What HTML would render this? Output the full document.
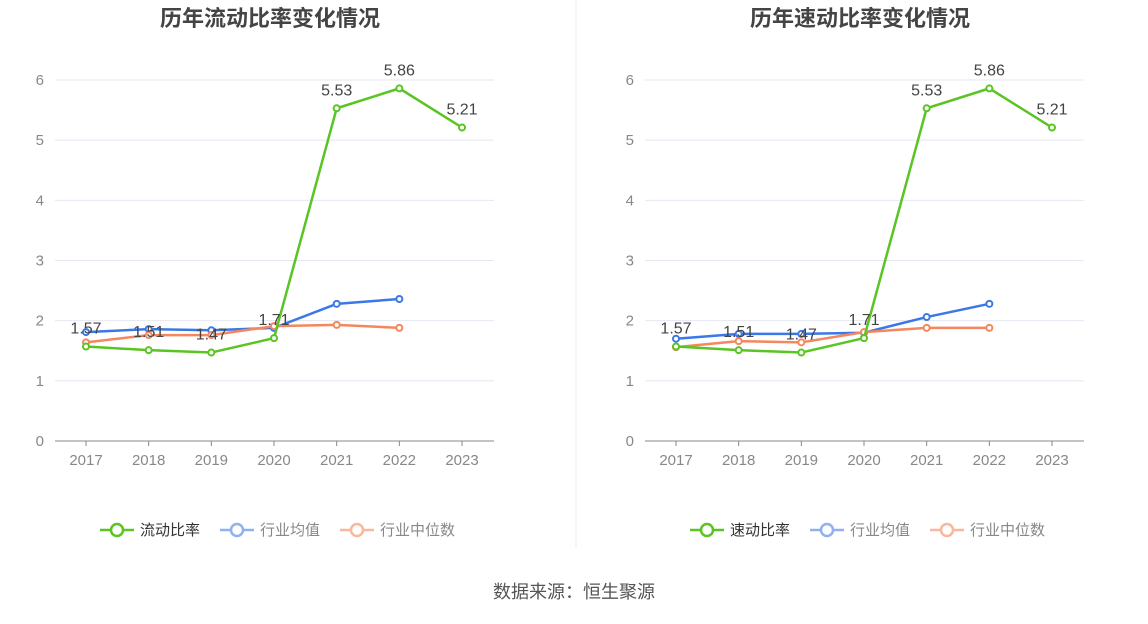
<!DOCTYPE html>
<html><head><meta charset="utf-8"><style>
body{margin:0;width:1148px;height:619px;background:#fff;overflow:hidden;font-family:"Liberation Sans","Noto Sans CJK SC",sans-serif;}
svg text{font-family:"Liberation Sans","Noto Sans CJK SC",sans-serif;}
</style></head><body>
<svg id="svg" width="1148" height="619">
<line x1="576" y1="0" x2="576" y2="548" stroke="#eee"/>
<text x="574" y="598" text-anchor="middle" font-size="18" fill="#555">数据来源：恒生聚源</text>
</svg>
<script>
const years=["2017","2018","2019","2020","2021","2022","2023"];
const yTicks=[0,1,2,3,4,5,6];
const leftMain=[1.57,1.51,1.47,1.71,5.53,5.86,5.21];
const leftAvg=[1.81,1.86,1.84,1.88,2.28,2.36];
const leftMed=[1.64,1.76,1.76,1.91,1.93,1.88];
const rightMain=[1.57,1.51,1.47,1.71,5.53,5.86,5.21];
const rightAvg=[1.70,1.78,1.78,1.80,2.06,2.28];
const rightMed=[1.56,1.66,1.64,1.81,1.88,1.88];
const svg=document.getElementById('svg');
const NS='http://www.w3.org/2000/svg';
function mk(tag,attrs,parent){const e=document.createElementNS(NS,tag);for(const k in attrs)e.setAttribute(k,attrs[k]);(parent||svg).appendChild(e);return e;}
function chart(x0,title,mainName,main,avg,med,prefix){
  const left=x0+55,right=x0+494,y0=441,y6=80;
  const xs=i=>x0+86+i*62.67;
  const ys=v=>y0-(v/6)*(y0-y6);
  const g=mk('g',{});
  
  
  const t=mk('text',{x:x0+270,y:26,'text-anchor':'middle','font-size':22,'font-weight':'bold',fill:'#444'},g);
  t.textContent=title;
  
  
  yTicks.forEach(v=>{
    if(v>0){const l=mk('line',{x1:left,x2:right,y1:ys(v),y2:ys(v),stroke:'#e4e7f2'},g);
    
    }
    const tx=mk('text',{x:x0+44,y:ys(v)+5,'text-anchor':'end','font-size':15,fill:'#888'},g);
    tx.textContent=v;
    
    
  });
  const ax=mk('line',{x1:left,x2:right,y1:y0,y2:y0,stroke:'#888'},g);
  
  
  years.forEach((y,i)=>{
    mk('line',{x1:xs(i),x2:xs(i),y1:y0,y2:y0+5,stroke:'#888'},g);
    const tx=mk('text',{x:xs(i),y:465,'text-anchor':'middle','font-size':15,fill:'#888'},g);
    tx.textContent=y;
    
    
  });
  function series(vals,color,name){
    const p=mk('polyline',{points:vals.map((v,i)=>xs(i)+','+ys(v)).join(' '),fill:'none',stroke:color,'stroke-width':2.5},g);
    
    
    vals.forEach((v,i)=>{const c=mk('circle',{cx:xs(i),cy:ys(v),r:3,fill:'#fff',stroke:color,'stroke-width':2},g);
      
      });
  }
  series(avg,'#3b78e7','industry-avg');
  series(med,'#f5875f','industry-median');
  series(main,'#5ac423','main');
  main.forEach((v,i)=>{const tx=mk('text',{x:xs(i),y:ys(v)-13,'text-anchor':'middle','font-size':16,fill:'#444'},g);
    tx.textContent=v.toFixed(2);
    
    });
  const leg=[[mainName,'#5ac423','#333'],['行业均值','#8fb1f0','#888'],['行业中位数','#f9b79e','#888']];
  let lx=x0+100;const widths=[120,120,130];
  leg.forEach((l,i)=>{
    const lg=mk('g',{},g);
    
    
    mk('line',{x1:lx,x2:lx+34,y1:530,y2:530,stroke:l[1],'stroke-width':2.5},lg);
    mk('circle',{cx:lx+17,cy:530,r:6,fill:'#fff',stroke:l[1],'stroke-width':2.5},lg);
    const tx=mk('text',{x:lx+40,y:535,'font-size':15,fill:l[2]},lg);tx.textContent=l[0];
    lx+=widths[i];
  });
}
chart(0,'历年流动比率变化情况','流动比率',leftMain,leftAvg,leftMed,'current-ratio');
chart(590,'历年速动比率变化情况','速动比率',rightMain,rightAvg,rightMed,'quick-ratio');
</script>
</body></html>
